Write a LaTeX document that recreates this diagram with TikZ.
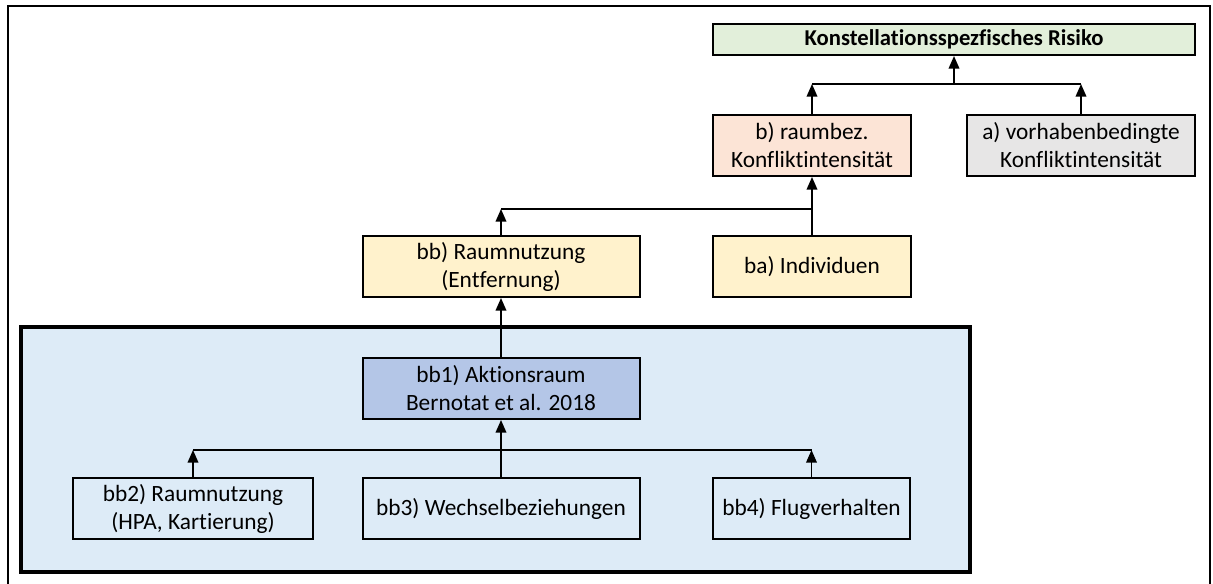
\documentclass[tikz,border=0pt]{standalone}
\usepackage{fontspec}
\setmainfont{Carlito}[Ligatures=NoCommon]
\usetikzlibrary{arrows.meta}
\definecolor{gruen}{HTML}{E2EFDA}
\definecolor{rosa}{HTML}{FCE4D6}
\definecolor{grau}{HTML}{E7E6E6}
\definecolor{gelb}{HTML}{FFF2CC}
\definecolor{hellblau}{HTML}{DDEBF7}
\definecolor{mittelblau}{HTML}{B4C6E7}
\begin{document}
\begin{tikzpicture}[x=0.75pt, y=-0.75pt,
  kasten/.style={rectangle, draw, line width=1.5pt, align=center, inner sep=0pt, minimum height=45.75pt, font=\fontsize{17.5}{21}\selectfont},
  pfeil/.style={-{Triangle[length=9.5pt,width=8pt]}, line width=1.2pt},
  linie/.style={line width=1.2pt}]
  \useasboundingbox (0,0) rectangle (1213,583);
  % Rahmen
  \draw[line width=1.2pt] (8,6) rectangle (1210,620);
  \draw[line width=3.5pt, fill=hellblau] (21,327) rectangle (970,572);

  % Knoten
  \node[kasten, fill=gruen, minimum width=361.5pt, minimum height=23.25pt, font=\fontsize{17}{21}\selectfont\bfseries] (risiko) at (954,39.5) {Konstellationsspezfisches Risiko};
  \node[kasten, fill=rosa, minimum width=148.5pt] (raum) at (812,145.5) {b) raumbez.\\Konfliktintensität};
  \node[kasten, fill=grau, minimum width=171pt] (vorhaben) at (1081,145.5) {a) vorhabenbedingte\\Konfliktintensität};
  \node[kasten, fill=gelb, minimum width=207.75pt] (bb) at (501,266.5) {bb) Raumnutzung\\(Entfernung)};
  \node[kasten, fill=gelb, minimum width=148.5pt] (ba) at (812,266.5) {ba) Individuen};
  \node[kasten, fill=mittelblau, minimum width=207.75pt] (bb1) at (501,388.5) {bb1) Aktionsraum\\Bernotat et al. 2018};
  \node[kasten, minimum width=180pt] (bb2) at (193,508.5) {bb2) Raumnutzung\\(HPA, Kartierung)};
  \node[kasten, minimum width=207.75pt] (bb3) at (501,508.5) {bb3) Wechselbeziehungen};
  \node[kasten, minimum width=148pt] (bb4) at (811.5,508.5) {bb4) Flugverhalten};

  % Verzweigungen
  \coordinate (j1) at (954,84);
  \coordinate (j1l) at (812,84);
  \coordinate (j1r) at (1081,84);
  \coordinate (j2l) at (501,209);
  \coordinate (j2r) at (812,209);
  \coordinate (j3l) at (193,450);
  \coordinate (j3r) at (811.5,450);

  % Pfeile
  \draw[linie] (j1l) -- (j1r);
  \draw[pfeil] (j1) -- (risiko.south);
  \draw[pfeil] (raum.north) -- (j1l);
  \draw[pfeil] (vorhaben.north) -- (j1r);

  \draw[linie] (j2l) -- (j2r);
  \draw[pfeil] (ba.north) -- (raum.south);
  \draw[pfeil] (bb.north) -- (j2l);
  \draw[pfeil] (bb1.north) -- (bb.south);

  \draw[linie] (j3l) -- (j3r);
  \draw[pfeil] (bb3.north) -- (bb1.south);
  \draw[pfeil] (bb2.north) -- (j3l);
  \draw[pfeil] (bb4.north) -- (j3r);
\end{tikzpicture}
\end{document}
